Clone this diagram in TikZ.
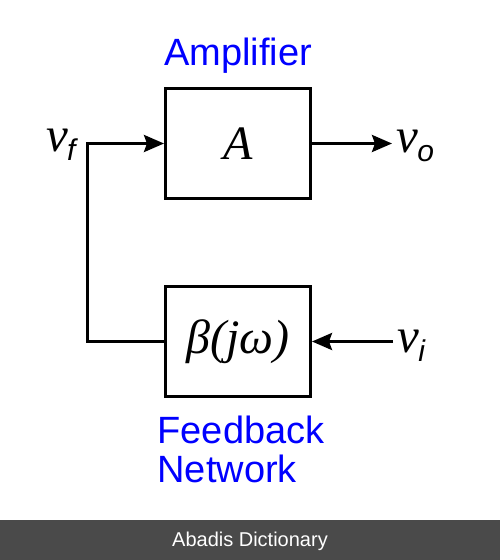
\documentclass[tikz,border=0pt]{standalone}
\usepackage{fontspec}
\setsansfont{Liberation Sans}
\newfontfamily\symserif{Liberation Serif}
\usetikzlibrary{positioning,arrows.meta}
\definecolor{bargray}{RGB}{74,74,74}
% a signal name with a lowered index
\newcommand{\sigv}[1]{v\kern-1pt\raisebox{-9pt}{\sffamily\itshape\fontsize{30}{30}\selectfont #1}}

\begin{document}
\begin{tikzpicture}[x=1pt, y=-1pt, line width=3pt,
    block/.style={draw, minimum width=145pt, minimum height=110pt, inner sep=0pt,
                  font=\symserif\itshape\fontsize{48}{48}\selectfont},
    caption/.style={text=blue, inner sep=0pt, align=left,
                    font=\sffamily\fontsize{38}{39}\selectfont},
    sig/.style={inner sep=3pt, font=\symserif\itshape\fontsize{49}{49}\selectfont},
    >={Stealth[length=20pt, width=17pt, inset=3pt]}]
  \useasboundingbox (0,0) rectangle (500,560);

  \node[block] (amp) at (238,143.5) {A};
  \node[block, below=85pt of amp] (fb) {β(jω)};
  \node[caption, above=12pt of amp] (amplabel) {Amplifier};
  \node[caption, below=16pt of fb, xshift=3pt] (fblabel) {Feedback\\Network};

  \node[sig, anchor=base west] (vo) at (392,152) {\sigv{o}};
  \node[sig, anchor=base east] (vf) at (80,151) {\sigv{f}};
  \node[sig, anchor=base west] (vi) at (393,352) {\sigv{i}};
  \coordinate (tap) at (87,143.5);

  \path[->]
  (amp.east) edge (amp.east -| vo.west)
  (vi.west |- fb.east) edge (fb.east)
  ;
  \draw[->] (fb.west) -| (tap) -- (amp.west);

  % watermark bar
  \fill[bargray] (0,520) rectangle (500,560);
  \node[text=white, font=\sffamily\fontsize{20}{20}\selectfont] (mark) at (250,541) {Abadis Dictionary};
\end{tikzpicture}
\end{document}
